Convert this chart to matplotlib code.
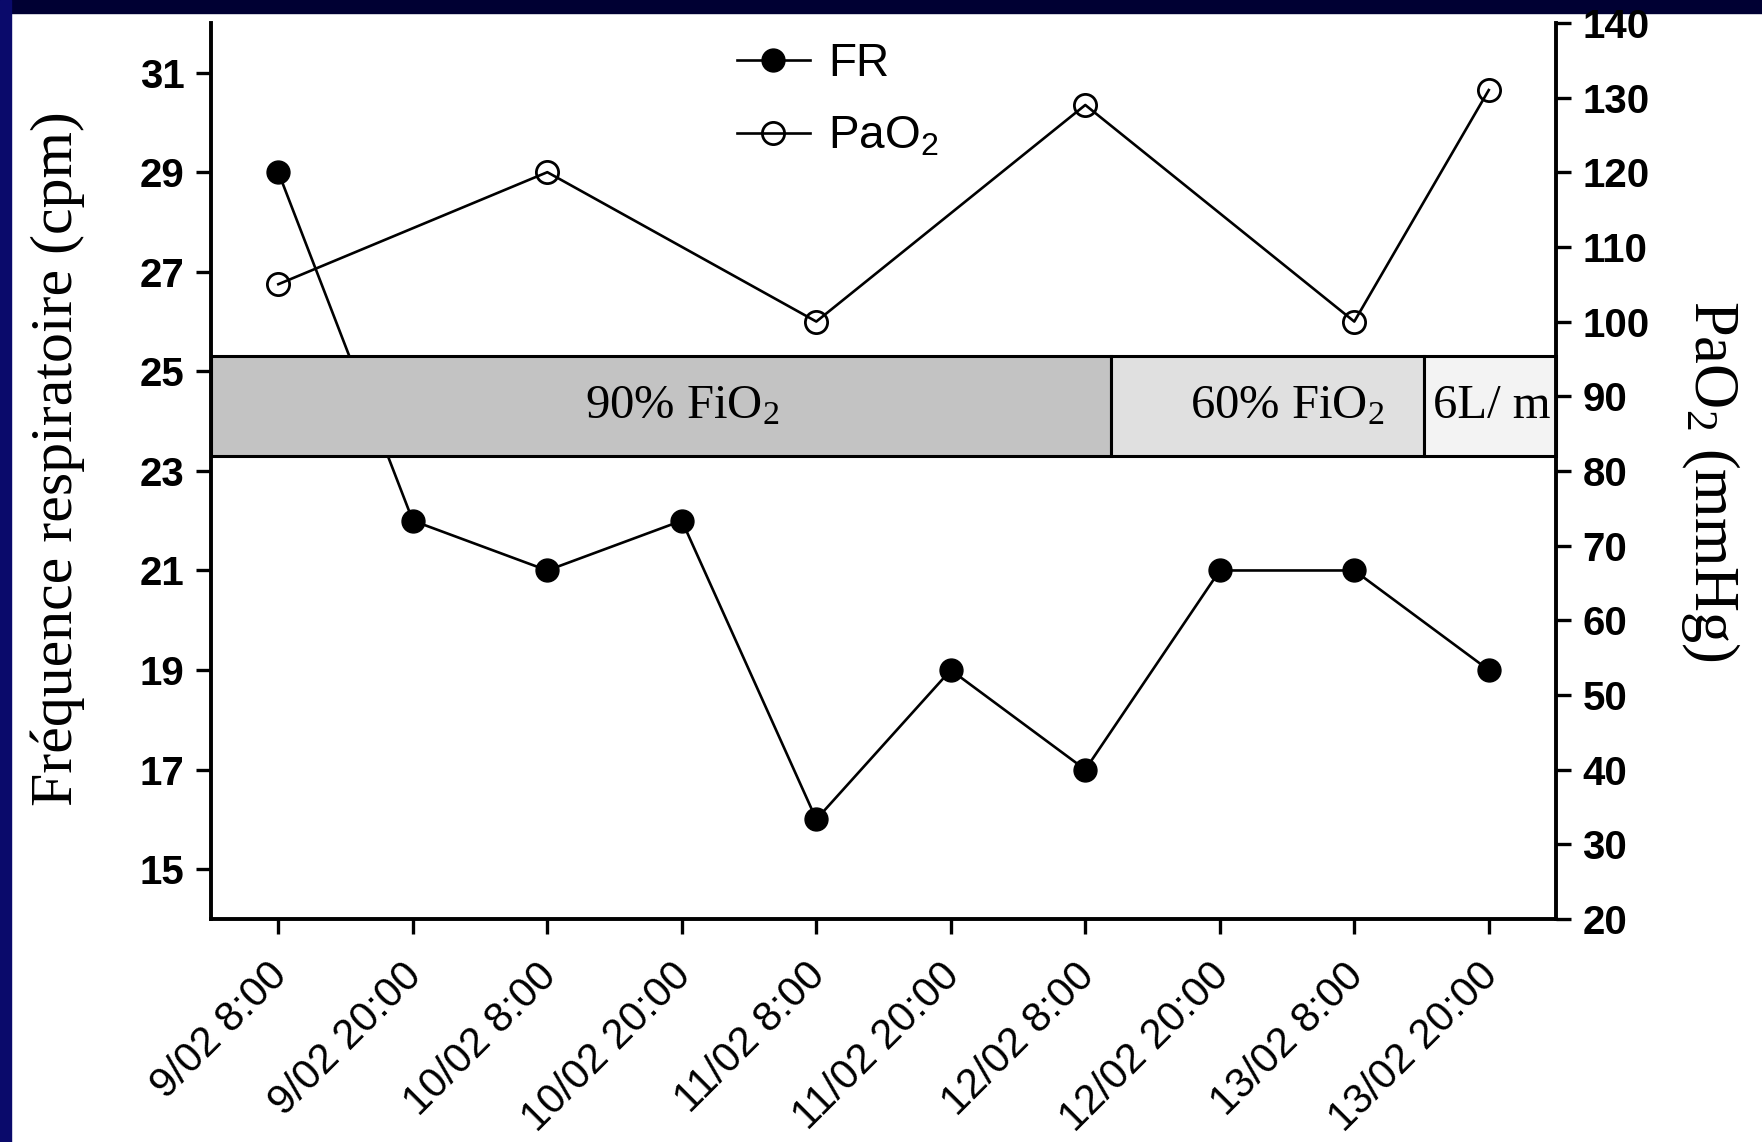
import matplotlib.pyplot as plt
from matplotlib.patches import Rectangle
from matplotlib.lines import Line2D
from matplotlib.transforms import ScaledTranslation

plt.rcParams['mathtext.default'] = 'regular'

# data
times = ['9/02 8:00', '9/02 20:00', '10/02 8:00', '10/02 20:00', '11/02 8:00',
         '11/02 20:00', '12/02 8:00', '12/02 20:00', '13/02 8:00', '13/02 20:00']
fr = [29, 22, 21, 22, 16, 19, 17, 21, 21, 19]
pao2_idx = [0, 2, 4, 6, 8, 9]
pao2 = [105, 120, 100, 129, 100, 131]

phases = ['90% FiO$_2$', '60% FiO$_2$', '6L/ m']
phase_edges = [-0.5, 6.19, 8.52, 9.5]
phase_colors = ['#c3c3c3', '#e0e0e0', '#f3f3f3']
phase_label_x = [3.0, 7.5, 9.02]

sans = 'Liberation Sans'
serif = 'Liberation Serif'

fig = plt.figure(figsize=(17.62, 11.42), dpi=100)
ax = fig.add_axes([0.1198, 0.1953, 0.7633, 0.7847])
ax2 = ax.twinx()

x = list(range(len(times)))
ax.plot(x, fr, color='black', lw=1.9, marker='o', ms=16.5, mfc='black', mec='black', zorder=2)

# phase boxes (drawn over the FR line)
for i, lab in enumerate(phases):
    x0, x1 = phase_edges[i], phase_edges[i + 1]
    ax.add_patch(Rectangle((x0, 23.3), x1 - x0, 2.0, facecolor=phase_colors[i],
                           edgecolor='black', lw=2.2, zorder=3, clip_on=False))
    ax.text(phase_label_x[i], 24.3, lab, ha='center', va='center', fontsize=35,
            family=serif, zorder=4)

ax2.plot(pao2_idx, pao2, color='black', lw=1.9, marker='o', ms=16, mfc='none',
         mec='black', mew=2.0)

ax.set_xlim(-0.5, 9.5)
ax.set_ylim(14, 32)
ax2.set_ylim(20, 140)
ax.set_yticks(range(15, 32, 2))
ax2.set_yticks(range(20, 141, 10))
ax.set_xticks(x)

for a in (ax, ax2):
    a.spines['top'].set_visible(False)
    for s in a.spines.values():
        s.set_linewidth(2.8)
    a.tick_params(width=2.4, length=11)
    a.tick_params(axis='y', labelsize=29, pad=8)
    for t in a.get_yticklabels():
        t.set_family(sans)
        t.set_fontweight('bold')
ax.spines['right'].set_visible(False)
ax2.spines['left'].set_visible(False)
ax2.spines['bottom'].set_visible(False)
ax.tick_params(axis='x', pad=19)
ax.set_xticklabels(times, rotation=45, ha='right', rotation_mode='anchor',
                   family=sans, fontsize=30)
shift = ScaledTranslation(-0.11, 0.05, fig.dpi_scale_trans)
for t in ax.get_xticklabels():
    t.set_transform(t.get_transform() + shift)

ax.set_ylabel('Fréquence respiratoire (cpm)', family=serif, fontsize=43)
ax.yaxis.set_label_coords(-0.094, 0.514)
ax2.set_ylabel('PaO$_2$ (mmHg)', family=serif, fontsize=45, rotation=270)
ax2.yaxis.set_label_coords(1.138, 0.489)

handles = [Line2D([], [], color='black', lw=1.9, marker='o', ms=16.5, mfc='black'),
           Line2D([], [], color='black', lw=1.9, marker='o', ms=16, mfc='none', mew=2.0)]
fig.legend(handles, ['FR', 'PaO$_2$'], loc='upper left', bbox_to_anchor=(0.418, 0.963),
           frameon=False, prop={'family': sans, 'size': 33}, handlelength=1.6,
           handletextpad=0.4, labelspacing=0.62, borderpad=0, borderaxespad=0)

# slide background edges
fig.patches.append(Rectangle((0, 1 - 13 / 1142), 1, 13 / 1142, transform=fig.transFigure,
                             color='#000033', zorder=-1))
fig.patches.append(Rectangle((0, 0), 11 / 1762, 1, transform=fig.transFigure,
                             color='#0a0a6b', zorder=-1))

fig.savefig('out.png', dpi=100)
